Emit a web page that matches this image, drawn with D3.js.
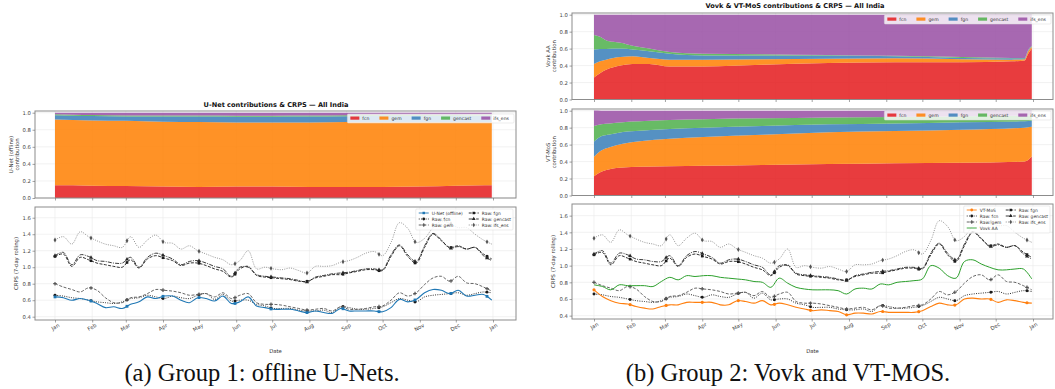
<!DOCTYPE html>
<html>
<head>
<meta charset="utf-8">
<script src="https://cdn.jsdelivr.net/npm/d3@7"></script>
<style>
  body { margin: 0; background: #fff; }
  svg { display: block; }
  text { font-family: "DejaVu Sans", sans-serif; }
  text.caption { font-family: "Liberation Serif", "DejaVu Serif", serif; }
</style>
</head>
<body>
<svg id="fig" width="1055" height="389"></svg>
<script>

// ---------- data ----------
const monthLabels = ["Jan","Feb","Mar","Apr","May","Jun","Jul","Aug","Sep","Oct","Nov","Dec","Jan"];
const components = ["fcn","gem","fgn","gencast","ifs_ens"];

// day-of-year of the weekly CRPS samples
const weekDays = [0,7,14,21,28,35,42,49,56,63,70,77,84,91,98,105,112,119,126,133,140,147,154,161,168,175,
  182,189,196,203,210,217,224,231,238,245,252,259,266,273,280,287,294,301,308,315,322,329,336,343,350,357,364];

const crpsIfs = [1.33,1.37,1.28,1.43,1.37,1.32,1.28,1.26,1.24,1.37,1.24,1.33,1.39,1.30,1.29,1.22,1.26,1.20,1.16,1.12,1.09,1.03,1.08,1.20,0.98,1.00,
  0.98,0.97,0.99,0.96,0.93,1.01,1.01,1.02,1.06,1.08,1.12,1.17,1.19,1.14,1.30,1.54,1.47,1.30,1.35,1.48,1.56,1.53,1.48,1.48,1.40,1.33,1.28];
const crpsGencast = [1.14,1.18,1.03,1.15,1.13,1.08,1.07,1.05,1.05,1.12,1.00,1.12,1.17,1.14,1.10,1.03,1.07,1.08,1.05,1.01,0.98,0.89,1.00,1.00,0.91,0.89,
  0.88,0.87,0.86,0.84,0.82,0.88,0.90,0.92,0.93,0.94,0.96,0.98,0.98,0.97,1.15,1.27,1.15,1.07,1.26,1.41,1.33,1.23,1.25,1.22,1.24,1.14,1.08];
const crpsFgn = [1.13,1.16,1.01,1.12,1.09,1.05,1.03,1.01,1.00,1.09,0.99,1.10,1.14,1.11,1.08,1.02,1.05,1.05,1.02,0.98,0.95,0.88,0.98,1.01,0.90,0.88,
  0.87,0.86,0.85,0.83,0.83,0.87,0.89,0.91,0.91,0.93,0.95,0.97,0.97,0.96,1.13,1.26,1.13,1.05,1.24,1.40,1.32,1.24,1.26,1.22,1.24,1.16,1.10];
const crpsGem = [0.80,0.76,0.73,0.70,0.75,0.72,0.63,0.57,0.57,0.63,0.64,0.68,0.73,0.72,0.71,0.69,0.66,0.67,0.68,0.64,0.69,0.62,0.66,0.68,0.57,0.55,
  0.55,0.54,0.52,0.50,0.48,0.49,0.50,0.47,0.52,0.49,0.49,0.50,0.52,0.53,0.60,0.69,0.65,0.69,0.79,0.87,0.89,0.83,0.89,0.81,0.80,0.76,0.71];
const crpsFcn = [0.66,0.65,0.63,0.62,0.60,0.58,0.57,0.56,0.58,0.62,0.63,0.66,0.64,0.62,0.65,0.63,0.62,0.66,0.68,0.61,0.67,0.59,0.60,0.60,0.55,0.53,
  0.50,0.50,0.50,0.48,0.47,0.47,0.48,0.45,0.52,0.51,0.49,0.49,0.50,0.52,0.57,0.62,0.60,0.58,0.64,0.66,0.67,0.68,0.69,0.66,0.68,0.70,0.69];
const crpsUnet = [0.64,0.63,0.60,0.62,0.60,0.56,0.51,0.52,0.50,0.55,0.58,0.64,0.62,0.65,0.65,0.60,0.57,0.63,0.62,0.59,0.65,0.56,0.58,0.64,0.53,0.51,
  0.49,0.49,0.49,0.47,0.45,0.47,0.45,0.44,0.50,0.47,0.47,0.47,0.47,0.46,0.51,0.61,0.58,0.61,0.69,0.73,0.72,0.68,0.72,0.65,0.66,0.67,0.60];
const crpsVtmos = [0.71,0.63,0.58,0.55,0.54,0.51,0.49,0.48,0.51,0.53,0.53,0.56,0.56,0.56,0.56,0.53,0.53,0.58,0.57,0.55,0.58,0.53,0.55,0.53,0.50,0.48,
  0.46,0.47,0.46,0.45,0.41,0.43,0.43,0.42,0.45,0.44,0.44,0.44,0.44,0.46,0.51,0.55,0.53,0.53,0.60,0.61,0.60,0.60,0.56,0.59,0.58,0.56,0.55];
const crpsVovk = [0.77,0.75,0.71,0.77,0.76,0.76,0.76,0.75,0.81,0.86,0.83,0.88,0.87,0.88,0.88,0.86,0.85,0.84,0.83,0.81,0.80,0.74,0.85,0.79,0.74,0.72,
  0.71,0.71,0.71,0.70,0.66,0.72,0.73,0.72,0.78,0.77,0.80,0.81,0.82,0.84,1.00,0.97,0.88,0.85,1.05,1.07,1.02,0.98,0.95,0.95,0.96,0.96,0.84];

// U-Net (offline) contribution weights
const unetDays = [0,15,31,59,90,120,151,181,212,243,273,304,334,358,364];
const unetFcn     = [0.150,0.150,0.145,0.140,0.135,0.130,0.135,0.135,0.130,0.130,0.130,0.135,0.145,0.150,0.150];
const unetGem     = [0.770,0.765,0.765,0.765,0.760,0.760,0.750,0.750,0.755,0.760,0.760,0.755,0.745,0.740,0.740];
const unetFgn     = [0.050,0.050,0.050,0.050,0.060,0.065,0.068,0.068,0.070,0.068,0.070,0.070,0.072,0.075,0.075];
const unetGencast = [0.012,0.012,0.012,0.012,0.012,0.012,0.012,0.012,0.012,0.012,0.012,0.012,0.012,0.012,0.012];
const unetIfs     = [0.018,0.023,0.028,0.033,0.033,0.033,0.035,0.035,0.033,0.030,0.028,0.028,0.026,0.023,0.023];

// Vovk AA contribution weights
const vovkDays = [0,5,10,16,22,32,46,63,91,140,195,250,306,347,358,361,364];
const vovkFcn     = [0.26,0.31,0.35,0.38,0.40,0.42,0.42,0.39,0.39,0.41,0.43,0.44,0.44,0.45,0.46,0.54,0.60];
const vovkGem     = [0.16,0.14,0.12,0.11,0.10,0.09,0.07,0.08,0.08,0.065,0.05,0.045,0.035,0.02,0.015,0.03,0.02];
const vovkFgn     = [0.17,0.145,0.125,0.11,0.10,0.08,0.08,0.07,0.05,0.045,0.04,0.025,0.015,0.015,0.01,0.01,0.005];
const vovkGencast = [0.17,0.145,0.105,0.08,0.07,0.045,0.03,0.02,0.02,0.015,0.005,0.005,0.01,0.005,0.005,0.005,0.005];
const vovkIfs     = [0.24,0.26,0.30,0.32,0.33,0.365,0.40,0.44,0.46,0.465,0.475,0.485,0.50,0.51,0.51,0.415,0.37];

// VT-MoS contribution weights
const vtDays = [0,6,13,24,38,63,91,140,195,250,306,358,364];
const vtFcn     = [0.226,0.28,0.31,0.33,0.34,0.345,0.35,0.36,0.37,0.38,0.385,0.40,0.46];
const vtGem     = [0.23,0.25,0.26,0.28,0.30,0.325,0.34,0.355,0.375,0.38,0.39,0.40,0.35];
const vtFgn     = [0.18,0.17,0.15,0.14,0.125,0.115,0.11,0.105,0.095,0.09,0.09,0.075,0.07];
const vtGencast = [0.185,0.14,0.13,0.115,0.11,0.105,0.10,0.09,0.08,0.075,0.07,0.065,0.065];
const vtIfs     = [0.18,0.16,0.15,0.135,0.125,0.11,0.10,0.09,0.08,0.075,0.065,0.06,0.055];

const markerDays = [0,30,60,90,120,150,180,210,240,270,300,330,360];

// ---------- setup ----------
const svg = d3.select("#fig");
const t0 = new Date(2023, 0, 1);
const t1 = new Date(2024, 0, 1);
const dayToDate = d => d3.timeDay.offset(t0, d);
const monthTicks = d3.timeMonth.range(t0, d3.timeDay.offset(t1, 1));

const setColors = {fcn: "#e41a1c", gem: "#ff7f00", fgn: "#377eb8", gencast: "#4daf4a", ifs_ens: "#984ea3"};

const rawStyle = {
  fcn:     {label: "Raw: fcn",     color: "#1a1a1a", dash: "1,1.3",       sym: d3.symbolCircle,   values: crpsFcn},
  gem:     {label: "Raw: gem",     color: "#555555", dash: "3,1.6",       sym: d3.symbolCross,    values: crpsGem},
  fgn:     {label: "Raw: fgn",     color: "#1a1a1a", dash: "3,1.4",       sym: d3.symbolSquare,   values: crpsFgn},
  gencast: {label: "Raw: gencast", color: "#262626", dash: "4,1.2,1,1.2", sym: d3.symbolTriangle, values: crpsGencast},
  ifs_ens: {label: "Raw: ifs_ens", color: "#8a8a8a", dash: "1,1.3",       sym: d3.symbolDiamond,  values: crpsIfs, mcolor: "#555"}
};

function makeAxes(box, yDomain, yTicks) {
  const g = svg.append("g");
  const x = d3.scaleTime().domain([t0, t1]).range([box.dx0, box.dx1]);
  const y = d3.scaleLinear().domain(yDomain).range([box.y1, box.y0]);
  const grid = g.append("g").attr("stroke", "#e9e9e9").attr("stroke-width", 0.6);
  grid.selectAll(".vx").data(monthTicks).join("line")
    .attr("x1", d => x(d)).attr("x2", d => x(d)).attr("y1", box.y0).attr("y2", box.y1);
  grid.selectAll(".hy").data(yTicks).join("line")
    .attr("x1", box.x0).attr("x2", box.x1).attr("y1", d => y(d)).attr("y2", d => y(d));
  const plot = g.append("g");
  return {g, plot, x, y, box, yTicks};
}

function finishAxes(ax, showDates) {
  const b = ax.box;
  ax.g.append("rect").attr("x", b.x0).attr("y", b.y0).attr("width", b.x1 - b.x0).attr("height", b.y1 - b.y0)
    .attr("fill", "none").attr("stroke", "#8c8c8c").attr("stroke-width", 1);

  const ya = ax.g.append("g").attr("transform", `translate(${b.x0},0)`)
    .call(d3.axisLeft(ax.y).tickValues(ax.yTicks).tickSize(2.5).tickPadding(1.5).tickFormat(d3.format(".1f")));
  const xa = ax.g.append("g").attr("transform", `translate(0,${b.y1})`)
    .call(d3.axisBottom(ax.x).tickValues(monthTicks).tickSize(2.5).tickPadding(2)
      .tickFormat((d, i) => showDates ? monthLabels[i] : ""));
  [ya, xa].forEach(a => {
    a.select(".domain").remove();
    a.selectAll("line").attr("stroke", "#666").attr("stroke-width", 0.6);
    a.selectAll("text").attr("font-size", 5.3).attr("fill", "#444");
  });
  if (showDates) {
    xa.selectAll("text").attr("text-anchor", "end").attr("dy", "0.6em").attr("dx", "0.1em")
      .attr("transform", "rotate(-30)");
  }
}

function yLabel(ax, lines, xpos) {
  const cy = (ax.box.y0 + ax.box.y1) / 2;
  const t = svg.append("text").attr("transform", `translate(${xpos},${cy}) rotate(-90)`)
    .attr("text-anchor", "middle").attr("font-size", 5.3).attr("fill", "#333");
  lines.forEach((s, i) => t.append("tspan").attr("x", 0).attr("dy", i === 0 ? 0 : "1.15em").text(s));
}

function stackPanel(ax, days, cols) {
  const rows = days.map((d, i) => {
    const r = {day: d};
    components.forEach((c, k) => r[c] = cols[k][i]);
    return r;
  });
  const series = d3.stack().keys(components)(rows);
  const area = d3.area()
    .x(d => ax.x(dayToDate(d.data.day)))
    .y0(d => ax.y(d[0])).y1(d => ax.y(d[1]))
    .curve(d3.curveMonotoneX);
  ax.plot.selectAll("path").data(series).join("path")
    .attr("d", area).attr("fill", s => setColors[s.key]).attr("fill-opacity", 0.85);
}

function stackLegend(ax, top) {
  const fs = 4.6;
  const lg = svg.append("g");
  const bg = lg.append("rect");
  let cx = 0;
  const items = lg.append("g");
  components.forEach(c => {
    const it = items.append("g").attr("transform", `translate(${cx},0)`);
    it.append("rect").attr("x", 0).attr("y", -2).attr("width", 9).attr("height", 3.2)
      .attr("fill", setColors[c]).attr("fill-opacity", 0.85);
    const tx = it.append("text").attr("x", 12).attr("y", 1.4).attr("font-size", fs).attr("fill", "#333").text(c);
    cx += 12 + tx.node().getComputedTextLength() + 10;
  });
  const w = cx - 6;
  const x0 = ax.box.x1 - 2 - w - 4;
  items.attr("transform", `translate(${x0 + 3},${top + 4.5})`);
  bg.attr("x", x0).attr("y", top).attr("width", w + 4).attr("height", 9)
    .attr("fill", "#fff").attr("fill-opacity", 0.8).attr("stroke", "#d8d8d8").attr("stroke-width", 0.5).attr("rx", 1);
}

function pointAtX(node, px) {
  const L = node.getTotalLength();
  let lo = 0, hi = L;
  for (let k = 0; k < 30; k++) {
    const mid = (lo + hi) / 2;
    if (node.getPointAtLength(mid).x < px) lo = mid; else hi = mid;
  }
  return node.getPointAtLength((lo + hi) / 2);
}

function crpsLine(ax, values, st) {
  const line = d3.line()
    .x((d, i) => ax.x(dayToDate(weekDays[i])))
    .y(d => ax.y(d))
    .curve(d3.curveCatmullRom.alpha(0.5));
  const p = ax.plot.append("path").attr("d", line(values)).attr("fill", "none")
    .attr("stroke", st.color).attr("stroke-width", st.width || 0.9)
    .attr("stroke-dasharray", st.dash || null);
  if (st.sym) {
    const node = p.node();
    const sym = d3.symbol().type(st.sym).size(st.msize || 7);
    ax.plot.append("g").selectAll("path").data(markerDays).join("path")
      .attr("d", sym)
      .attr("fill", st.mcolor || st.color)
      .attr("transform", d => {
        const pt = pointAtX(node, ax.x(dayToDate(d)));
        return `translate(${pt.x},${pt.y})`;
      });
  }
}

function lineLegend(ax, entries, nrows, colW, top) {
  const fs = 4.4, rowH = 6;
  const lg = svg.append("g");
  const bg = lg.append("rect");
  const items = lg.append("g");
  let maxW = 0;
  entries.forEach((e, i) => {
    const col = Math.floor(i / nrows), row = i % nrows;
    const it = items.append("g").attr("transform", `translate(${col * colW},${row * rowH})`);
    it.append("line").attr("x1", 0).attr("x2", 10).attr("y1", 0).attr("y2", 0)
      .attr("stroke", e.color).attr("stroke-width", 0.9).attr("stroke-dasharray", e.dash || null);
    if (e.sym) it.append("path").attr("d", d3.symbol().type(e.sym).size(6)())
      .attr("transform", "translate(5,0)").attr("fill", e.mcolor || e.color);
    const tx = it.append("text").attr("x", 13).attr("y", 1.5).attr("font-size", fs).attr("fill", "#333").text(e.label);
    maxW = Math.max(maxW, col * colW + 13 + tx.node().getComputedTextLength());
  });
  const w = maxW + 5, h = nrows * rowH + 3;
  const x0 = ax.box.x1 - 3 - w;
  items.attr("transform", `translate(${x0 + 3},${top + 4})`);
  bg.attr("x", x0).attr("y", top).attr("width", w).attr("height", h)
    .attr("fill", "#fff").attr("fill-opacity", 0.8).attr("stroke", "#d8d8d8").attr("stroke-width", 0.5).attr("rx", 1);
}

function title(text, cx, y) {
  svg.append("text").attr("x", cx).attr("y", y).attr("text-anchor", "middle")
    .attr("font-size", 6.6).attr("font-weight", "bold").attr("fill", "#111").text(text);
}

function dateLabel(ax, y) {
  svg.append("text").attr("x", (ax.box.x0 + ax.box.x1) / 2).attr("y", y).attr("text-anchor", "middle")
    .attr("font-size", 5.3).attr("fill", "#333").text("Date");
}

function caption(text, cx) {
  svg.append("text").attr("class", "caption").attr("x", cx).attr("y", 381).attr("text-anchor", "middle")
    .attr("font-size", 24.5).attr("fill", "#111").text(text);
}

const stackTicks = [0, 0.2, 0.4, 0.6, 0.8, 1.0];
const crpsTicks = [0.4, 0.6, 0.8, 1.0, 1.2, 1.4, 1.6];
const rawOrder = ["fcn", "gem", "fgn", "gencast", "ifs_ens"];

// ---------- (a) offline U-Nets ----------
const aTop = makeAxes({x0: 35, x1: 516, dx0: 55, dx1: 493, y0: 111, y1: 198}, [0, 1.02], stackTicks);
stackPanel(aTop, unetDays, [unetFcn, unetGem, unetFgn, unetGencast, unetIfs]);
finishAxes(aTop, false);
stackLegend(aTop, 114);
yLabel(aTop, ["U-Net (offline)", "contribution"], 13);
title("U-Net contributions & CRPS — All India", 276, 107);

const aLow = makeAxes({x0: 35, x1: 516, dx0: 55, dx1: 493, y0: 207, y1: 320}, [0.36, 1.73], crpsTicks);
rawOrder.forEach(k => crpsLine(aLow, rawStyle[k].values, rawStyle[k]));
crpsLine(aLow, crpsUnet, {color: "#1f77b4", width: 1.1, sym: d3.symbolSquare, msize: 8});
finishAxes(aLow, true);
yLabel(aLow, ["CRPS (7-day rolling)"], 18);
lineLegend(aLow, [
  {label: "U-Net (offline)", color: "#1f77b4", sym: d3.symbolSquare},
  rawStyle.fcn, rawStyle.gem, rawStyle.fgn, rawStyle.gencast, rawStyle.ifs_ens
], 3, 50, 209);
dateLabel(aLow, 353);
caption("(a) Group 1: offline U-Nets.", 262);

// ---------- (b) Vovk and VT-MoS ----------
const bTop = makeAxes({x0: 572, x1: 1053, dx0: 594, dx1: 1033, y0: 13, y1: 99.5}, [0, 1.02], stackTicks);
stackPanel(bTop, vovkDays, [vovkFcn, vovkGem, vovkFgn, vovkGencast, vovkIfs]);
finishAxes(bTop, false);
stackLegend(bTop, 15);
yLabel(bTop, ["Vovk AA", "contribution"], 550);
title("Vovk & VT-MoS contributions & CRPS — All India", 795, 8);

const bMid = makeAxes({x0: 572, x1: 1053, dx0: 594, dx1: 1033, y0: 109, y1: 195.5}, [0, 1.02], stackTicks);
stackPanel(bMid, vtDays, [vtFcn, vtGem, vtFgn, vtGencast, vtIfs]);
finishAxes(bMid, false);
stackLegend(bMid, 111);
yLabel(bMid, ["VT-MoS", "contribution"], 550);

const bLow = makeAxes({x0: 572, x1: 1053, dx0: 594, dx1: 1033, y0: 204, y1: 319}, [0.36, 1.74], crpsTicks);
rawOrder.forEach(k => crpsLine(bLow, rawStyle[k].values, rawStyle[k]));
crpsLine(bLow, crpsVovk, {color: "#2ca02c", width: 1.0});
crpsLine(bLow, crpsVtmos, {color: "#ff7f0e", width: 1.1, sym: d3.symbolCircle, msize: 8});
finishAxes(bLow, true);
yLabel(bLow, ["CRPS (7-day rolling)"], 555);
lineLegend(bLow, [
  {label: "VT-MoS", color: "#ff7f0e", sym: d3.symbolCircle},
  rawStyle.fcn, rawStyle.gem,
  {label: "Vovk AA", color: "#2ca02c"},
  rawStyle.fgn, rawStyle.gencast, rawStyle.ifs_ens
], 4, 39, 206);
dateLabel(bLow, 353);
caption("(b) Group 2: Vovk and VT-MOS.", 788);

</script>
</body>
</html>
